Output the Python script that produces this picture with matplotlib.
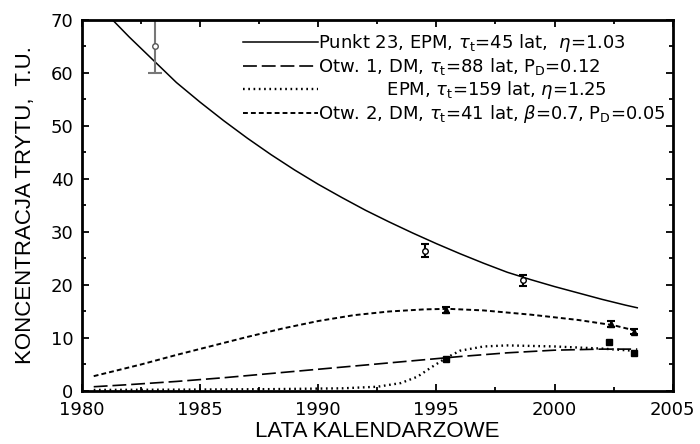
import numpy as np
import matplotlib.pyplot as plt

plt.rcParams['font.family'] = ['DejaVu Sans']
plt.rcParams['mathtext.fontset'] = 'dejavusans'
plt.rcParams['lines.scale_dashes'] = False

# model curves
p23_years = [1981.3, 1982, 1983, 1984, 1985, 1986, 1987, 1988, 1989, 1990,
             1991, 1992, 1993, 1994, 1995, 1996, 1997, 1998, 1999, 2000,
             2001, 2002, 2003, 2003.5]
p23_vals = [70, 66.8, 62.5, 58.2, 54.5, 51.0, 47.7, 44.6, 41.7, 39.0,
            36.5, 34.1, 31.9, 29.8, 27.8, 25.9, 24.1, 22.4, 21.0, 19.7,
            18.5, 17.3, 16.2, 15.7]

otw1_dm_years = [1980.5, 1982, 1984, 1986, 1988, 1990, 1992, 1994, 1996,
                 1998, 2000, 2002, 2003.5]
otw1_dm_vals = [0.8, 1.2, 1.8, 2.5, 3.3, 4.1, 4.9, 5.7, 6.5, 7.2, 7.7, 7.9, 7.9]

otw1_epm_years = [1980.5, 1984, 1988, 1991, 1992.5, 1993.5, 1994.2, 1994.8,
                  1995.4, 1996, 1997, 1998, 2000, 2002, 2003.3]
otw1_epm_vals = [0.2, 0.25, 0.35, 0.5, 0.8, 1.5, 2.7, 4.5, 6.2, 7.6, 8.4,
                 8.6, 8.4, 8.0, 7.6]

otw2_years = [1980.5, 1981.5, 1982.5, 1984, 1985.5, 1987, 1988.5, 1990,
              1991.5, 1993, 1994.5, 1995.5, 1997, 1999, 2001, 2002.5, 2003.5]
otw2_vals = [2.8, 3.9, 5.0, 6.8, 8.5, 10.2, 11.8, 13.2, 14.3, 15.0, 15.4,
             15.5, 15.2, 14.4, 13.4, 12.4, 11.3]

# measurements
p23_obs_x = [1983.1, 1994.5, 1998.65]
p23_obs_y = [65, 26.5, 20.9]
p23_obs_err = [5, 1.3, 1.0]

otw2_obs_x = [1995.4, 2002.4, 2003.35]
otw2_obs_y = [15.3, 12.6, 11.2]
otw2_obs_err = [0.6, 0.6, 0.5]

otw1_obs_x = [1995.4, 2002.3, 2003.35]
otw1_obs_y = [6.0, 9.3, 7.2]

labels = [r'Punkt 23, EPM, $\tau_\mathrm{t}$=45 lat,  $\eta$=1.03',
          r'Otw. 1, DM, $\tau_\mathrm{t}$=88 lat, P$_\mathrm{D}$=0.12',
          r'            EPM, $\tau_\mathrm{t}$=159 lat, $\eta$=1.25',
          r'Otw. 2, DM, $\tau_\mathrm{t}$=41 lat, $\beta$=0.7, P$_\mathrm{D}$=0.05']

fig = plt.figure(figsize=(7, 4.44), dpi=100)
ax = fig.add_axes([0.117, 0.1194, 0.844, 0.8356])

ax.plot(p23_years, p23_vals, color='black', lw=1.1, label=labels[0])
ax.plot(otw1_dm_years, otw1_dm_vals, color='black', lw=1.2,
        linestyle=(0, (10, 3.5)), label=labels[1])
ax.plot(otw1_epm_years, otw1_epm_vals, color='black', lw=1.7,
        linestyle=(0, (1.2, 2.6)), label=labels[2])
ax.plot(otw2_years, otw2_vals, color='black', lw=1.4,
        linestyle=(0, (3.5, 2.2)), label=labels[3])

ax.errorbar(p23_obs_x[:1], p23_obs_y[:1], yerr=p23_obs_err[:1], fmt='o',
            ms=4, mfc='white', mec='#555555', ecolor='#777777', elinewidth=1.5,
            capsize=5, capthick=1.5)
ax.errorbar(p23_obs_x[1:], p23_obs_y[1:], yerr=p23_obs_err[1:], fmt='o',
            ms=4, mfc='white', mec='black', ecolor='black', elinewidth=1.5,
            capsize=3, capthick=1.5)
ax.errorbar(otw2_obs_x, otw2_obs_y, yerr=otw2_obs_err, fmt='^', ms=4,
            color='black', elinewidth=1.5, capsize=3, capthick=1.5)
ax.plot(otw1_obs_x, otw1_obs_y, 's', ms=4, color='black')

ax.set_xlim(1980, 2005)
ax.set_ylim(0, 70)
ax.set_xticks(np.arange(1980, 2006, 5))
ax.set_xticks(np.arange(1980, 2005, 2.5), minor=True)
ax.set_yticks(np.arange(0, 71, 10))
ax.set_yticks(np.arange(0, 71, 5), minor=True)
ax.tick_params(which='both', direction='in', top=True, right=True,
               width=1.3, labelsize=13)
ax.tick_params(axis='x', pad=7)
ax.tick_params(axis='y', pad=6)
ax.tick_params(which='major', length=5)
ax.tick_params(which='minor', length=3)
for sp in ax.spines.values():
    sp.set_linewidth(2)

label_font = ['Liberation Sans']
ax.set_xlabel('LATA KALENDARZOWE', fontsize=16, family=label_font,
              labelpad=2)
ax.set_ylabel('KONCENTRACJA TRYTU,  T.U.', fontsize=16, family=label_font,
              labelpad=11)

ax.legend(loc='upper left', bbox_to_anchor=(0.272, 0.968), frameon=False,
          handlelength=4.15, handletextpad=0.0, labelspacing=0.12,
          borderpad=0, borderaxespad=0, fontsize=13)

fig.savefig('out.png', dpi=100)
